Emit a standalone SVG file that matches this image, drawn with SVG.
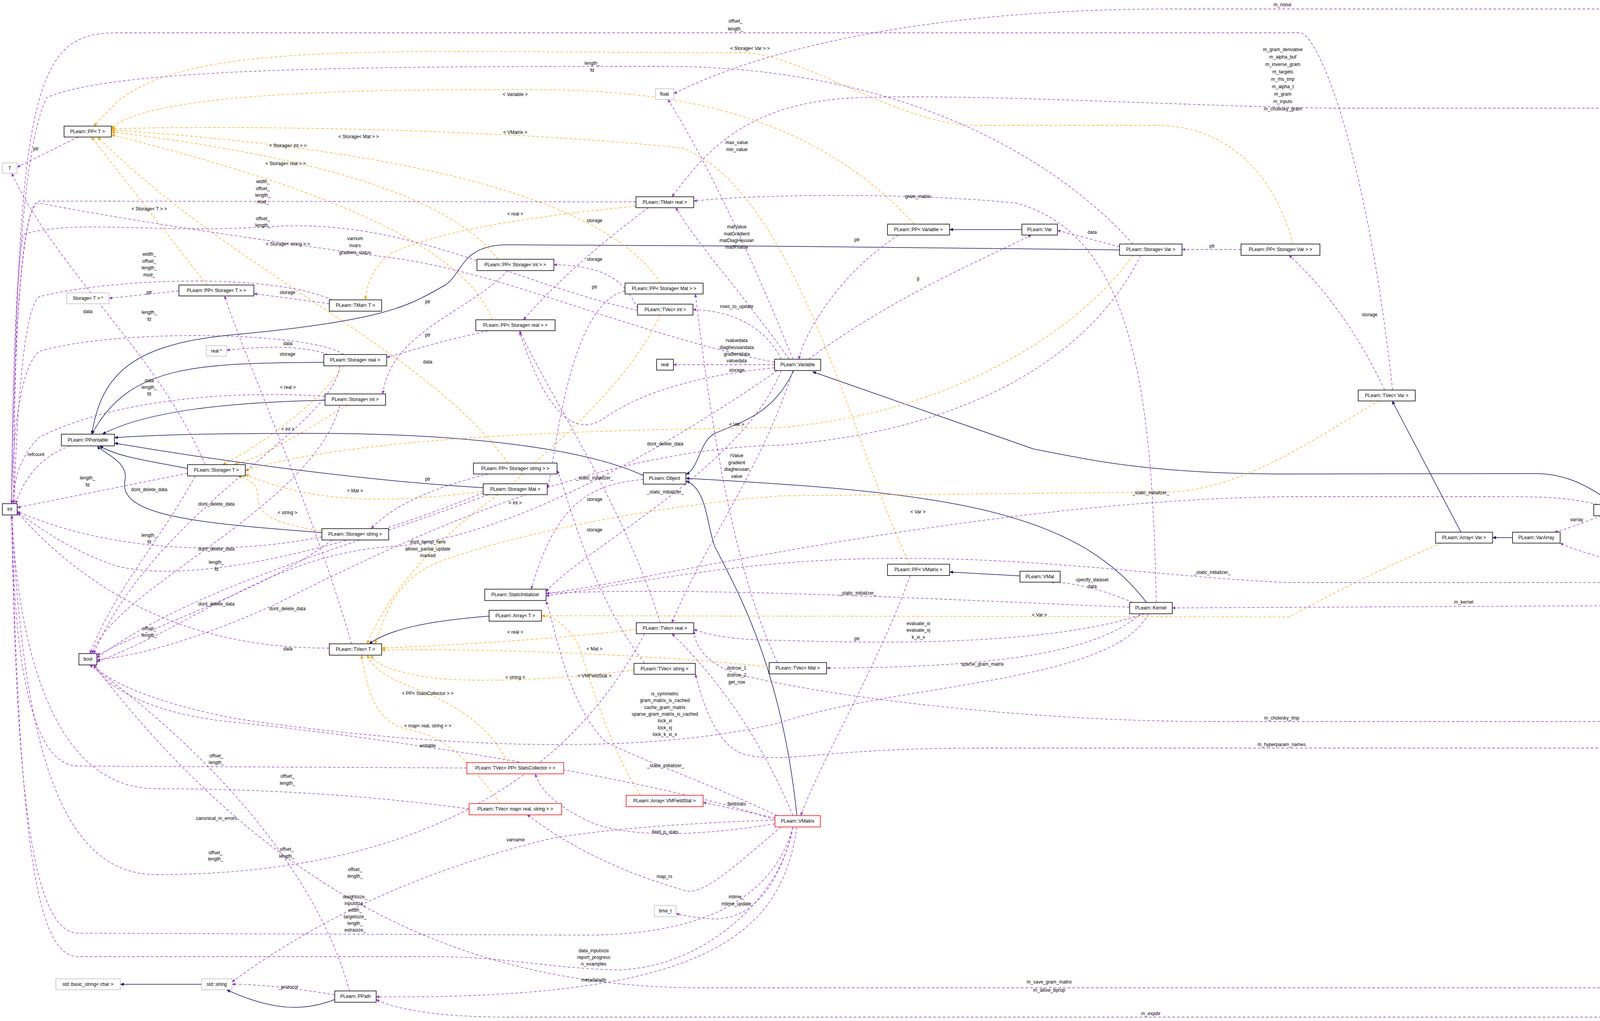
<svg xmlns="http://www.w3.org/2000/svg" width="4528" height="2615" viewBox="0 0 4528 2615">
<defs>
<marker id="ap" viewBox="0 0 10 10" refX="9" refY="5" markerWidth="9" markerHeight="9" orient="auto" markerUnits="userSpaceOnUse"><path d="M0,1 L10,5 L0,9 z" fill="#9a32cd"/></marker>
<marker id="ao" viewBox="0 0 10 10" refX="9" refY="5" markerWidth="10" markerHeight="10" orient="auto" markerUnits="userSpaceOnUse"><path d="M0,1 L10,5 L0,9 z" fill="orange"/></marker>
<marker id="an" viewBox="0 0 10 10" refX="9" refY="5" markerWidth="10" markerHeight="10" orient="auto" markerUnits="userSpaceOnUse"><path d="M0,1 L10,5 L0,9 z" fill="#191970"/></marker>
</defs>
<style>
text{font-family:"Liberation Sans",Arial,sans-serif;font-size:12px;fill:#000;text-anchor:middle}
.n rect{fill:#fff;stroke:#000;stroke-width:1.5}
.g rect{fill:#fff;stroke:#bfbfbf;stroke-width:1.5}
.r rect{fill:#fff;stroke:#ff0000;stroke-width:1.5}
.m rect{fill:#bfbfbf;stroke:#000;stroke-width:1.5}
.u{fill:none;stroke:#9a32cd;stroke-width:1.3;stroke-dasharray:7,5;marker-end:url(#ap)}
.t{fill:none;stroke:orange;stroke-width:1.3;stroke-dasharray:7,5;marker-end:url(#ao)}
.i{fill:none;stroke:#191970;stroke-width:1.5;marker-end:url(#an)}
</style>
<rect width="4528" height="2615" fill="#fff"/>
<g id="connectors">
<path class="i" d="M829,928 C500,930 330,935 235,1112"/>
<path class="i" d="M832,1025 C600,1030 380,1050 262,1112"/>
<path class="i" d="M480,1200 C380,1180 300,1170 255,1142"/>
<path class="i" d="M824,1364 C500,1340 300,1320 320,1230 C330,1180 260,1160 250,1142"/>
<path class="i" d="M1237,1249 C900,1230 500,1170 293,1135"/>
<path class="i" d="M1647,1218 C1500,1150 1200,1110 800,1110 C500,1110 380,1115 293,1121"/>
<path class="i" d="M2866,640 C2400,635 1800,627 1300,627 C1180,627 1185,700 1140,730 C1050,780 1000,820 600,857 C350,880 260,950 235,1112"/>
<path class="i" d="M2032,949 C1980,1060 1900,1080 1830,1110 C1790,1130 1790,1200 1756,1215"/>
<path class="i" d="M2935,1543 C2750,1300 2400,1260 1756,1225"/>
<path class="i" d="M2040,2089 C2000,1700 1880,1500 1830,1400 C1810,1350 1810,1250 1756,1232"/>
<path class="i" d="M4132,1292 C4050,1230 3990,1213 3930,1213 L3300,1214 C2950,1214 2800,1180 2646,1150 L2080,952"/>
<path class="i" d="M4390,1508 L4170,1321"/>
<path class="i" d="M3740,1363 L3564,1027"/>
<path class="i" d="M3872,1377 L3821,1377"/>
<path class="i" d="M2616,588 L2431,588"/>
<path class="i" d="M2611,1475 L2431,1465"/>
<path class="i" d="M1252,1578 C1100,1590 1000,1610 945,1649"/>
<path class="i" d="M516,2521 L308,2521"/>
<path class="i" d="M857,2560 C780,2590 700,2590 580,2535"/>

<path class="t" d="M1275,664 C1150,500 800,400 285,338"/>
<path class="t" d="M1260,819 C1180,600 700,450 285,345"/>
<path class="t" d="M530,730 L234,351"/>
<path class="t" d="M1300,1186 C1100,900 600,700 250,351"/>
<path class="t" d="M1690,725 C1550,500 1000,380 285,333"/>
<path class="t" d="M2340,574 C2000,200 1500,230 1200,230 C700,230 350,260 285,330"/>
<path class="t" d="M2330,1445 C2200,1200 2050,500 1750,380 C1300,330 600,320 285,330"/>
<path class="t" d="M3310,625 C3250,400 3100,321 2960,321 L2500,321 C2300,321 2050,135 1900,135 C1000,135 500,100 300,260 L240,323"/>
<path class="t" d="M1628,528 C1300,560 1100,600 1000,650 C950,690 940,730 935,768"/>
<path class="t" d="M880,937 C800,1050 650,1150 570,1190"/>
<path class="t" d="M890,1038 C780,1100 700,1160 600,1190"/>
<path class="t" d="M1237,1258 C1000,1290 800,1290 628,1215"/>
<path class="t" d="M824,1360 C700,1340 660,1320 660,1270 C660,1240 640,1230 610,1219"/>
<path class="t" d="M2900,654 C2800,800 2500,1050 2000,1095 C1500,1100 900,1120 628,1205"/>
<path class="t" d="M1690,807 C1600,1000 1400,1150 1300,1250 C1150,1350 1000,1500 940,1649"/>
<path class="t" d="M1629,1612 C1400,1640 1100,1655 977,1660"/>
<path class="t" d="M1969,1708 C1700,1680 1300,1660 977,1665"/>
<path class="t" d="M1623,1716 C1450,1740 1200,1750 1100,1735 C1000,1720 960,1700 950,1678"/>
<path class="t" d="M1300,1953 C1250,1850 1150,1800 1080,1770 C1000,1740 960,1720 940,1678"/>
<path class="t" d="M1280,2058 C1200,1950 1150,1890 1050,1870 C950,1850 940,1750 925,1678"/>
<path class="t" d="M3530,1027 C3400,1100 3200,1250 3000,1260 L2000,1270 C1600,1300 1200,1400 1100,1450 C1000,1500 980,1600 960,1649"/>
<path class="t" d="M1640,2037 C1550,1900 1500,1700 1480,1650 C1450,1600 1420,1580 1386,1577"/>
<path class="t" d="M3690,1391 C3550,1450 3450,1500 3300,1580 L1386,1577"/>

<path class="u" d="M200,351 L44,428"/>
<path class="u" d="M458,745 L279,764"/>
<path class="u" d="M843,778 L650,752"/>
<path class="u" d="M850,768 C700,700 300,710 100,760 C50,800 40,1200 35,1290"/>
<path class="u" d="M1628,517 L100,515 C40,515 30,1200 30,1290"/>
<path class="u" d="M1660,532 C1500,650 1400,750 1340,819"/>
<path class="u" d="M1632,790 C1600,720 1550,680 1418,678"/>
<path class="u" d="M1632,795 C1300,720 1050,560 700,580 C400,600 200,560 60,600 C35,700 30,1200 30,1290"/>
<path class="u" d="M1600,745 C1450,780 1420,1200 1401,1250"/>
<path class="u" d="M1990,1697 C1850,1400 1800,900 1780,753"/>
<path class="u" d="M1690,1595 C1600,1300 1400,1000 1330,847"/>
<path class="u" d="M1650,1699 C1500,1500 1450,1250 1426,1205"/>
<path class="u" d="M1250,847 C1100,880 1050,900 990,915"/>
<path class="u" d="M1300,693 C1200,800 1000,850 980,1009"/>
<path class="u" d="M1250,1214 C1100,1250 1000,1300 950,1354"/>
<path class="u" d="M840,908 C760,880 650,890 580,897"/>
<path class="u" d="M880,908 C800,850 300,840 100,900 C40,950 30,1200 30,1290"/>
<path class="u" d="M870,937 C850,1100 400,1300 240,1674"/>
<path class="u" d="M832,1015 C600,1000 300,1020 100,1120 C40,1180 35,1250 35,1290"/>
<path class="u" d="M870,1038 C800,1300 300,1500 235,1674"/>
<path class="u" d="M525,1190 C400,900 150,700 30,444"/>
<path class="u" d="M480,1212 L44,1300"/>
<path class="u" d="M500,1219 C400,1400 300,1500 230,1674"/>
<path class="u" d="M824,1375 C600,1420 300,1420 44,1310"/>
<path class="u" d="M850,1383 C700,1500 400,1600 248,1678"/>
<path class="u" d="M1237,1262 C900,1400 500,1500 300,1450 C150,1400 80,1330 44,1315"/>
<path class="u" d="M1250,1267 C900,1400 500,1500 248,1685"/>
<path class="u" d="M2866,632 L2707,590"/>
<path class="u" d="M2900,625 C2700,400 2300,170 1700,170 C1000,170 300,170 120,250 C40,400 30,1100 30,1290"/>
<path class="u" d="M2920,654 C2800,900 2500,1100 2000,1140 C1500,1150 1000,1400 700,1550 C500,1640 350,1680 248,1690"/>
<path class="u" d="M3177,639 L3026,639"/>
<path class="u" d="M3545,999 C3450,800 3350,700 3300,654"/>
<path class="u" d="M3565,999 C3500,400 3380,100 3331,84 L300,84 C100,84 40,200 35,1290"/>
<path class="u" d="M180,1142 C100,1170 60,1230 40,1290"/>
<path class="u" d="M2300,602 C2150,700 2060,850 2045,920"/>
<path class="u" d="M2330,1474 C2250,1700 2100,1950 2050,2089"/>
<path class="u" d="M2030,920 C1900,600 1800,400 1710,255"/>
<path class="u" d="M2020,920 C1900,750 1780,620 1730,532"/>
<path class="u" d="M2000,920 C1950,820 1850,795 1774,793"/>
<path class="u" d="M1983,934 L1724,934"/>
<path class="u" d="M1983,942 C1800,960 1650,1000 1550,1069 C1450,1140 1380,1000 1330,850"/>
<path class="u" d="M2070,920 C2300,750 2550,650 2640,602"/>
<path class="u" d="M1983,928 C1600,850 1300,700 1000,660 C700,620 300,560 100,520 C45,520 35,1000 35,1290"/>
<path class="u" d="M1990,949 C1700,1150 1300,1380 1000,1400 C700,1420 500,1600 248,1695"/>
<path class="u" d="M1647,1228 C1500,1240 1420,1300 1360,1509"/>
<path class="u" d="M2000,949 C1900,1200 1500,1400 1398,1515"/>
<path class="u" d="M2030,949 C1950,1200 1800,1400 1720,1595"/>
<path class="u" d="M2900,1543 C2800,1500 2720,1490 2690,1491"/>
<path class="u" d="M2960,1543 C2950,1000 2900,600 2600,520 C2300,490 1900,500 1776,515"/>
<path class="u" d="M2930,1572 C2700,1650 2300,1650 2000,1640 C1850,1640 1800,1620 1776,1612"/>
<path class="u" d="M2920,1572 C2800,1680 2500,1710 2116,1711"/>
<path class="u" d="M2940,1572 C2850,1750 2300,1750 2000,1850 C1600,1950 1000,1900 600,1840 C400,1800 280,1750 240,1703"/>
<path class="u" d="M2892,1555 C2500,1540 1800,1500 1398,1520"/>
<path class="u" d="M2030,2089 C1950,1900 1850,1750 1720,1623"/>
<path class="u" d="M1984,2095 L1800,2055"/>
<path class="u" d="M1984,2110 C1800,2140 1600,2150 1500,2100 C1400,2050 1380,2010 1370,1982"/>
<path class="u" d="M2000,2118 C1900,2200 1800,2300 1750,2280 C1650,2250 1500,2200 1350,2087"/>
<path class="u" d="M2030,2118 C1990,2300 1900,2360 1820,2353 C1780,2350 1750,2345 1731,2340"/>
<path class="u" d="M2030,2118 C1980,2300 1800,2395 1500,2395 L200,2390 C80,2390 40,2000 30,1320"/>
<path class="u" d="M1984,2100 C1700,2000 1000,1890 600,1850 C400,1830 280,1770 240,1703"/>
<path class="u" d="M1990,2089 C1800,2000 1650,1950 1550,1900 C1450,1800 1420,1600 1398,1540"/>
<path class="u" d="M1990,2100 C1700,2110 1500,2130 1400,2150 C1000,2250 750,2400 594,2515"/>
<path class="u" d="M2040,2118 C2000,2400 1800,2560 963,2553"/>
<path class="u" d="M2030,2118 C2000,2300 1800,2480 1580,2484 C1400,2480 1300,2450 1100,2450 L200,2450 C100,2450 50,2200 30,1320"/>
<path class="u" d="M857,2548 C750,2530 650,2520 594,2521"/>
<path class="u" d="M895,2538 C800,2200 500,1900 230,1703"/>
<path class="u" d="M900,1649 C800,1300 620,900 575,758"/>
<path class="u" d="M843,1660 C600,1660 300,1600 44,1312"/>
<path class="u" d="M1195,1967 L200,1962 C60,1960 35,1600 30,1320"/>
<path class="u" d="M1201,2072 C900,2030 600,2020 400,2020 C150,2020 50,1700 30,1320"/>
<path class="u" d="M1650,1623 C1400,2100 900,2240 400,2240 C150,2240 60,1900 30,1320"/>
<path class="u" d="M4370,1508 C4200,1450 4050,1420 3994,1391"/>
<path class="u" d="M4100,1321 C4050,1340 4010,1355 3980,1363"/>
<path class="u" d="M4090,1292 C4000,1272 3950,1272 3800,1272 L3300,1272 C2500,1280 1600,1500 1398,1520"/>
<path class="u" d="M4360,1508 C4200,1490 4100,1492 4000,1492 L3300,1492 C3000,1480 2700,1430 2300,1430 C1900,1430 1600,1500 1398,1526"/>
<path class="u" d="M4340,1537 C4200,1551 4100,1552 4000,1552 L3001,1557"/>
<path class="u" d="M4412,1508 C4400,800 4190,300 4157,277 L3400,277 C3000,270 2500,240 2200,250 C1900,260 1800,400 1720,504"/>
<path class="u" d="M4425,1508 C4410,600 4190,60 4160,23 L3000,23 C2300,23 1900,150 1725,240"/>
<path class="u" d="M4400,1537 C4380,1700 4300,1848 4150,1848 L3100,1848 C2700,1848 2200,1800 1900,1730 C1800,1700 1780,1650 1776,1616"/>
<path class="u" d="M4405,1537 C4390,1750 4300,1916 4100,1916 L2500,1916 C2100,1916 2000,1960 1900,1930 C1820,1900 1790,1760 1780,1727"/>
<path class="u" d="M4410,1537 C4400,2200 4300,2530 4100,2530 L1800,2530 C1200,2530 700,2300 240,1703"/>
<path class="u" d="M4412,1537 C4400,2300 4300,2605 4100,2605 L1300,2605 C1100,2605 1000,2580 963,2560"/>
</g>
<g id="labels">
<text x="3283" y="16">m_noise</text>
<text x="1883" y="58">offset_</text><text x="1883" y="78">length_</text>
<text x="1920" y="128">&lt; Storage&lt; Var &gt; &gt;</text>
<text x="3284" y="131">m_gram_derivative</text><text x="3284" y="150">m_alpha_buf</text><text x="3284" y="169">m_inverse_gram</text><text x="3284" y="188">m_targets</text><text x="3284" y="207">m_rhs_tmp</text><text x="3284" y="226">m_alpha_t</text><text x="3284" y="245">m_gram</text><text x="3284" y="264">m_inputs</text><text x="3284" y="283">m_cholesky_gram</text>
<text x="1516" y="166">length_</text><text x="1516" y="184">fd</text>
<text x="1319" y="246">&lt; Variable &gt;</text>
<text x="1319" y="343">&lt; VMatrix &gt;</text>
<text x="918" y="354">&lt; Storage&lt; Mat &gt; &gt;</text>
<text x="737" y="377">&lt; Storage&lt; int &gt; &gt;</text>
<text x="731" y="423">&lt; Storage&lt; real &gt; &gt;</text>
<text x="92" y="385">ptr</text>
<text x="673" y="469">width_</text><text x="673" y="487">offset_</text><text x="673" y="504">length_</text><text x="673" y="521">mod_</text>
<text x="382" y="539">&lt; Storage&lt; T &gt; &gt;</text>
<text x="673" y="564">offset_</text><text x="673" y="581">length_</text>
<text x="1319" y="552">&lt; real &gt;</text>
<text x="1886" y="369">max_value</text><text x="1886" y="387">min_value</text>
<text x="2350" y="507">gram_matrix</text>
<text x="1522" y="569">storage</text>
<text x="1886" y="585">matValue</text><text x="1886" y="603">matGradient</text><text x="1886" y="620">matDiagHessian</text><text x="1886" y="637">matRValue</text>
<text x="2194" y="618">ptr</text><text x="2796" y="599">data</text><text x="3103" y="634">ptr</text>
<text x="909" y="615">varnum</text><text x="909" y="633">nvars</text><text x="909" y="651">gradient_status</text>
<text x="737" y="629">&lt; Storage&lt; string &gt; &gt;</text>
<text x="382" y="655">width_</text><text x="382" y="673">offset_</text><text x="382" y="690">length_</text><text x="382" y="708">mod_</text>
<text x="1522" y="668">storage</text>
<text x="2350" y="717">g</text>
<text x="1522" y="739">ptr</text>
<text x="382" y="753">ptr</text><text x="736" y="753">storage</text>
<text x="1095" y="777">ptr</text>
<text x="1886" y="789">rows_to_update</text>
<text x="225" y="802">data</text>
<text x="382" y="804">length_</text><text x="382" y="822">fd</text>
<text x="3506" y="810">storage</text>
<text x="1095" y="862">ptr</text>
<text x="1886" y="876">rvaluedata</text><text x="1886" y="894">diaghessiandata</text><text x="1886" y="911">gradientdata</text><text x="1886" y="928">valuedata</text>
<text x="737" y="884">data</text><text x="736" y="911">storage</text>
<text x="1095" y="931">data</text>
<text x="1886" y="952">storage</text>
<text x="382" y="979">data</text><text x="382" y="996">length_</text><text x="382" y="1013">fd</text>
<text x="737" y="996">&lt; real &gt;</text>
<text x="1886" y="1091">&lt; Var &gt;</text>
<text x="737" y="1103">&lt; int &gt;</text>
<text x="1703" y="1141">dont_delete_data</text>
<text x="92" y="1168">refcount</text>
<text x="1886" y="1171">rValue</text><text x="1886" y="1189">gradient</text><text x="1886" y="1206">diaghessian</text><text x="1886" y="1224">value</text>
<text x="224" y="1228">length_</text><text x="224" y="1246">fd</text>
<text x="1095" y="1231">ptr</text>
<text x="1522" y="1228">_static_initializer_</text>
<text x="382" y="1258">dont_delete_data</text>
<text x="909" y="1261">&lt; Mat &gt;</text>
<text x="1703" y="1264">_static_initializer_</text>
<text x="2946" y="1266">_static_initializer_</text>
<text x="1522" y="1283">storage</text>
<text x="1319" y="1292">&lt; int &gt;</text>
<text x="554" y="1295">dont_delete_data</text>
<text x="2350" y="1315">&lt; Var &gt;</text>
<text x="736" y="1317">&lt; string &gt;</text>
<text x="4036" y="1335">varray</text>
<text x="1522" y="1361">storage</text>
<text x="382" y="1375">length_</text><text x="382" y="1392">fd</text>
<text x="1095" y="1392">dont_bprop_here</text><text x="1095" y="1410">allows_partial_update</text><text x="1095" y="1427">marked</text>
<text x="554" y="1410">dont_delete_data</text>
<text x="4153" y="1417">m_hyperparam_vars</text>
<text x="554" y="1444">length_</text><text x="554" y="1462">fd</text>
<text x="3103" y="1470">_static_initializer_</text>
<text x="2796" y="1489">specify_dataset</text><text x="2796" y="1506">data</text>
<text x="2196" y="1523">_static_initializer_</text>
<text x="3747" y="1546">m_kernel</text>
<text x="554" y="1551">dont_delete_data</text>
<text x="736" y="1563">dont_delete_data</text>
<text x="2661" y="1579">&lt; Var &gt;</text>
<text x="2351" y="1601">evaluate_xi</text><text x="2351" y="1618">evaluate_xj</text><text x="2351" y="1636">k_xi_x</text>
<text x="382" y="1614">offset_</text><text x="382" y="1631">length_</text>
<text x="1319" y="1623">&lt; real &gt;</text>
<text x="2194" y="1640">ptr</text>
<text x="737" y="1666">data</text><text x="1522" y="1666">&lt; Mat &gt;</text>
<text x="2515" y="1705">sparse_gram_matrix</text>
<text x="1886" y="1715">dotrow_1</text><text x="1886" y="1733">dotrow_2</text><text x="1886" y="1751">get_row</text>
<text x="1319" y="1739">&lt; string &gt;</text>
<text x="1522" y="1735">&lt; VMFieldStat &gt;</text>
<text x="1095" y="1780">&lt; PP&lt; StatsCollector &gt; &gt;</text>
<text x="1702" y="1781">is_symmetric</text><text x="1702" y="1798">gram_matrix_is_cached</text><text x="1702" y="1816">cache_gram_matrix</text><text x="1702" y="1833">sparse_gram_matrix_is_cached</text><text x="1702" y="1850">lock_xi</text><text x="1702" y="1868">lock_xj</text><text x="1702" y="1885">lock_k_xi_x</text>
<text x="3281" y="1843">m_cholesky_tmp</text>
<text x="1095" y="1863">&lt; map&lt; real, string &gt; &gt;</text>
<text x="3281" y="1911">m_hyperparam_names</text>
<text x="1095" y="1914">writable</text>
<text x="554" y="1940">offset_</text><text x="554" y="1957">length_</text>
<text x="1704" y="1965">_static_initializer_</text>
<text x="736" y="1992">offset_</text><text x="736" y="2010">length_</text>
<text x="1886" y="2063">fieldstats</text>
<text x="554" y="2100">canonical_in_errors</text>
<text x="1703" y="2135">field_p_stats</text>
<text x="1320" y="2155">varname</text>
<text x="552" y="2188">offset_</text><text x="552" y="2204">length_</text>
<text x="734" y="2179">offset_</text><text x="734" y="2197">length_</text>
<text x="909" y="2231">offset_</text><text x="909" y="2248">length_</text>
<text x="1701" y="2249">map_rs</text>
<text x="1885" y="2301">mtime_</text><text x="1885" y="2319">mtime_update</text>
<text x="909" y="2301">weightsize_</text><text x="909" y="2318">inputsize_</text><text x="909" y="2335">width_</text><text x="909" y="2352">targetsize_</text><text x="909" y="2369">length_</text><text x="909" y="2386">extrasize_</text>
<text x="1520" y="2439">data_inputsize</text><text x="1520" y="2456">report_progress</text><text x="1520" y="2473">n_examples</text>
<text x="1520" y="2514">metadatadir</text>
<text x="2686" y="2519">m_save_gram_matrix</text><text x="2686" y="2540">m_allow_bprop</text>
<text x="738" y="2532">_protocol</text>
<text x="2946" y="2600">m_expdir</text>
</g>
<g id="n_PPT" class="n"><rect x="164" y="323" width="121" height="28"/><text x="224" y="341">PLearn::PP&lt; T &gt;</text></g>
<g id="n_T" class="g"><rect x="6" y="417" width="38" height="27"/><text x="25" y="435">T</text></g>
<g id="n_float" class="g"><rect x="1678" y="227" width="47" height="28"/><text x="1701" y="245">float</text></g>
<g id="n_TMatReal" class="n"><rect x="1628" y="504" width="148" height="28"/><text x="1702" y="522">PLearn::TMat&lt; real &gt;</text></g>
<g id="n_PPSInt" class="n"><rect x="1221" y="664" width="197" height="29"/><text x="1319" y="682">PLearn::PP&lt; Storage&lt; int &gt; &gt;</text></g>
<g id="n_PPSMat" class="n"><rect x="1600" y="725" width="200" height="28"/><text x="1700" y="743">PLearn::PP&lt; Storage&lt; Mat &gt; &gt;</text></g>
<g id="n_TVecInt" class="n"><rect x="1632" y="779" width="142" height="28"/><text x="1703" y="797">PLearn::TVec&lt; int &gt;</text></g>
<g id="n_PPSReal" class="n"><rect x="1218" y="819" width="203" height="28"/><text x="1319" y="837">PLearn::PP&lt; Storage&lt; real &gt; &gt;</text></g>
<g id="n_PPST" class="n"><rect x="458" y="730" width="192" height="28"/><text x="554" y="748">PLearn::PP&lt; Storage&lt; T &gt; &gt;</text></g>
<g id="n_STstar" class="g"><rect x="171" y="750" width="108" height="28"/><text x="225" y="768">Storage&lt; T &gt; *</text></g>
<g id="n_TMatT" class="n"><rect x="843" y="768" width="134" height="29"/><text x="910" y="786">PLearn::TMat&lt; T &gt;</text></g>
<g id="n_realstar" class="g"><rect x="528" y="885" width="52" height="27"/><text x="554" y="903">real *</text></g>
<g id="n_SReal" class="n"><rect x="829" y="908" width="161" height="29"/><text x="909" y="926">PLearn::Storage&lt; real &gt;</text></g>
<g id="n_real" class="n"><rect x="1681" y="920" width="43" height="28"/><text x="1702" y="938">real</text></g>
<g id="n_SInt" class="n"><rect x="832" y="1009" width="155" height="29"/><text x="909" y="1027">PLearn::Storage&lt; int &gt;</text></g>
<g id="n_PPointable" class="n"><rect x="157" y="1112" width="136" height="30"/><text x="225" y="1131">PLearn::PPointable</text></g>
<g id="n_ST" class="n"><rect x="480" y="1190" width="148" height="29"/><text x="554" y="1208">PLearn::Storage&lt; T &gt;</text></g>
<g id="n_PPSString" class="n"><rect x="1212" y="1186" width="214" height="28"/><text x="1319" y="1204">PLearn::PP&lt; Storage&lt; string &gt; &gt;</text></g>
<g id="n_Object" class="n"><rect x="1647" y="1211" width="109" height="29"/><text x="1701" y="1229">PLearn::Object</text></g>
<g id="n_SMat" class="n"><rect x="1237" y="1239" width="164" height="28"/><text x="1319" y="1257">PLearn::Storage&lt; Mat &gt;</text></g>
<g id="n_int" class="n"><rect x="6" y="1290" width="38" height="29"/><text x="25" y="1308">int</text></g>
<g id="n_SString" class="n"><rect x="824" y="1354" width="171" height="29"/><text x="909" y="1372">PLearn::Storage&lt; string &gt;</text></g>
<g id="n_StaticInit" class="n"><rect x="1241" y="1509" width="157" height="29"/><text x="1319" y="1527">PLearn::StaticInitializer</text></g>
<g id="n_ArrayT" class="n"><rect x="1252" y="1563" width="134" height="28"/><text x="1319" y="1581">PLearn::Array&lt; T &gt;</text></g>
<g id="n_TVecReal" class="n"><rect x="1629" y="1595" width="147" height="28"/><text x="1702" y="1613">PLearn::TVec&lt; real &gt;</text></g>
<g id="n_TVecT" class="n"><rect x="843" y="1649" width="134" height="29"/><text x="910" y="1667">PLearn::TVec&lt; T &gt;</text></g>
<g id="n_bool" class="n"><rect x="202" y="1674" width="46" height="29"/><text x="225" y="1692">bool</text></g>
<g id="n_TVecString" class="n"><rect x="1623" y="1699" width="157" height="28"/><text x="1701" y="1717">PLearn::TVec&lt; string &gt;</text></g>
<g id="n_TVecPPSC" class="r"><rect x="1195" y="1953" width="248" height="29"/><text x="1319" y="1971">PLearn::TVec&lt; PP&lt; StatsCollector &gt; &gt;</text></g>
<g id="n_ArrayVMFS" class="r"><rect x="1603" y="2037" width="197" height="29"/><text x="1701" y="2055">PLearn::Array&lt; VMFieldStat &gt;</text></g>
<g id="n_TVecMap" class="r"><rect x="1201" y="2058" width="237" height="29"/><text x="1319" y="2076">PLearn::TVec&lt; map&lt; real, string &gt; &gt;</text></g>
<g id="n_VMatrix" class="r"><rect x="1984" y="2089" width="116" height="29"/><text x="2042" y="2107">PLearn::VMatrix</text></g>
<g id="n_time_t" class="g"><rect x="1675" y="2319" width="56" height="29"/><text x="1703" y="2337">time_t</text></g>
<g id="n_basic_string" class="g"><rect x="143" y="2507" width="165" height="28"/><text x="225" y="2525">std::basic_string&lt; char &gt;</text></g>
<g id="n_stdstring" class="g"><rect x="516" y="2507" width="78" height="28"/><text x="555" y="2525">std::string</text></g>
<g id="n_PPath" class="n"><rect x="857" y="2538" width="106" height="29"/><text x="910" y="2556">PLearn::PPath</text></g>
<g id="n_PPVariable" class="n"><rect x="2272" y="574" width="159" height="28"/><text x="2351" y="592">PLearn::PP&lt; Variable &gt;</text></g>
<g id="n_Var" class="n"><rect x="2616" y="574" width="91" height="28"/><text x="2661" y="592">PLearn::Var</text></g>
<g id="n_StorageVar" class="n"><rect x="2866" y="625" width="160" height="29"/><text x="2946" y="643">PLearn::Storage&lt; Var &gt;</text></g>
<g id="n_PPSVar" class="n"><rect x="3177" y="625" width="202" height="29"/><text x="3278" y="643">PLearn::PP&lt; Storage&lt; Var &gt; &gt;</text></g>
<g id="n_Variable" class="n"><rect x="1983" y="920" width="118" height="29"/><text x="2042" y="938">PLearn::Variable</text></g>
<g id="n_PPVMatrix" class="n"><rect x="2272" y="1445" width="159" height="29"/><text x="2351" y="1463">PLearn::PP&lt; VMatrix &gt;</text></g>
<g id="n_VMat" class="n"><rect x="2611" y="1463" width="103" height="28"/><text x="2662" y="1481">PLearn::VMat</text></g>
<g id="n_Kernel" class="n"><rect x="2892" y="1543" width="109" height="29"/><text x="2946" y="1561">PLearn::Kernel</text></g>
<g id="n_TVecMat" class="n"><rect x="1969" y="1697" width="147" height="29"/><text x="2042" y="1715">PLearn::TVec&lt; Mat &gt;</text></g>
<g id="n_TVecVar" class="n"><rect x="3477" y="999" width="146" height="28"/><text x="3550" y="1017">PLearn::TVec&lt; Var &gt;</text></g>
<g id="n_NaryVariable" class="n"><rect x="4080" y="1292" width="147" height="29"/><text x="4153" y="1310">PLearn::NaryVariable</text></g>
<g id="n_ArrayVar" class="n"><rect x="3675" y="1363" width="146" height="28"/><text x="3748" y="1381">PLearn::Array&lt; Var &gt;</text></g>
<g id="n_VarArray" class="n"><rect x="3872" y="1363" width="122" height="28"/><text x="3933" y="1381">PLearn::VarArray</text></g>
<g id="n_GPNLL" class="m"><rect x="4277" y="1508" width="246" height="29"/><text x="4400" y="1526">PLearn::GaussianProcessNLLVariable</text></g>
</svg>
